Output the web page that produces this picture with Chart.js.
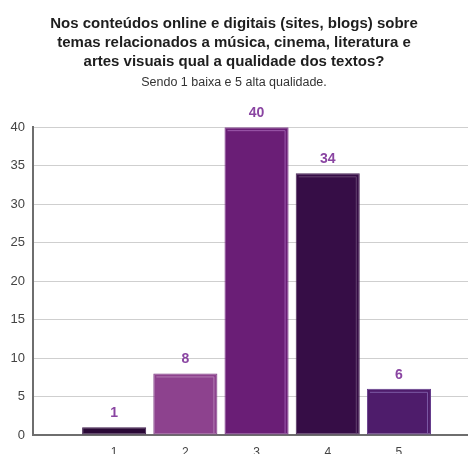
<!DOCTYPE html>
<html>
<head>
<meta charset="utf-8">
<script src="https://cdn.jsdelivr.net/npm/chart.js@4"></script>
<style>
    html, body { margin: 0; padding: 0; background: #fff; }
    #wrap { width: 468px; height: 454px; position: relative; }
</style>
</head>
<body>
<div id="wrap"><canvas id="chart"></canvas></div>
<script>
const titleLines = [
    'Nos conteúdos online e digitais (sites, blogs) sobre',
    'temas relacionados a música, cinema, literatura e',
    'artes visuais qual a qualidade dos textos?'
];
const subtitleText = 'Sendo 1 baixa e 5 alta qualidade.';

const categories = [1, 2, 3, 4, 5];
const values = [1, 8, 40, 34, 6];
const yTicks = [0, 5, 10, 15, 20, 25, 30, 35, 40];

const fillColors = ['#2a0836', '#8d428e', '#6a1e76', '#360d46', '#4e1c6b'];
const edgeColors = ['#3e1c4c', '#7c3a82', '#7a3088', '#4a2858', '#62388a'];
const shineColors = ['#5a3a68', '#b27ab2', '#9c5aac', '#62426e', '#7c5aa4'];

const FONT = '"Liberation Sans", Arial, sans-serif';

// thin lighter line inside the top and right edge of every bar
const barShine = {
    id: 'barShine',
    afterDatasetsDraw(chart) {
        const ctx = chart.ctx;
        const meta = chart.getDatasetMeta(0);
        ctx.save();
        ctx.lineWidth = 1;
        meta.data.forEach((bar, i) => {
            const half = bar.width / 2;
            const left = bar.x - half + 3;
            const right = bar.x + half - 3.5;
            const top = bar.y + 3.5;
            const bottom = bar.base - 1;
            if (bottom - top < 3) return;
            ctx.strokeStyle = shineColors[i];
            ctx.beginPath();
            ctx.moveTo(left, top);
            ctx.lineTo(right, top);
            ctx.lineTo(right, bottom);
            ctx.stroke();
        });
        ctx.restore();
    }
};

// numbers above each bar, taken from the bar elements themselves
const valueLabels = {
    id: 'valueLabels',
    afterDatasetsDraw(chart) {
        const ctx = chart.ctx;
        const meta = chart.getDatasetMeta(0);
        ctx.save();
        ctx.font = `bold 14px ${FONT}`;
        ctx.fillStyle = '#8a45a2';
        ctx.textAlign = 'center';
        ctx.textBaseline = 'middle';
        meta.data.forEach((bar, i) => {
            ctx.fillText(String(values[i]), bar.x, bar.y - 14);
        });
        ctx.restore();
    }
};

const ctx = document.getElementById('chart').getContext('2d');
const chart = new Chart(ctx, {
    type: 'bar',
    data: {
        datasets: [{
            data: categories.map((c, i) => ({ x: c, y: values[i] })),
            backgroundColor: fillColors,
            borderColor: edgeColors,
            borderWidth: 1,
            borderSkipped: false,
            categoryPercentage: 1,
            barPercentage: 0.9,
        }]
    },
    options: {
        responsive: true,
        maintainAspectRatio: false,
        animation: false,
        layout: { padding: { left: 0, right: 0, top: 0, bottom: 0 } },
        plugins: {
            legend: { display: false },
            tooltip: { enabled: false },
            title: {
                display: true,
                text: titleLines,
                color: '#1e1e1e',
                font: { family: FONT, size: 15, weight: 'bold', lineHeight: 1.27 },
                padding: { top: 14, bottom: 0 },
            },
            subtitle: {
                display: true,
                text: subtitleText,
                color: '#333',
                font: { family: FONT, size: 12.5, lineHeight: 1.2 },
                padding: { top: 4, bottom: 37 },
            },
        },
        scales: {
            x: {
                type: 'linear',
                offset: false,
                min: -0.14,
                max: 5.97,
                afterBuildTicks: (axis) => {
                    axis.ticks = categories.map((v) => ({ value: v }));
                },
                afterFit: (scale) => { scale.height = 19; },
                grid: { display: false, drawTicks: false },
                border: { display: true, color: '#6e6e6e', width: 2 },
                ticks: {
                    color: '#444',
                    font: { family: FONT, size: 12 },
                    padding: 10,
                    autoSkip: false,
                    maxRotation: 0,
                },
            },
            y: {
                min: 0,
                max: 40,
                afterBuildTicks: (axis) => {
                    axis.ticks = yTicks.map((v) => ({ value: v }));
                },
                afterFit: (scale) => { scale.width = 33; },
                grid: { color: '#cfcfcf', lineWidth: 1, drawTicks: false },
                border: { display: true, color: '#6e6e6e', width: 2 },
                ticks: {
                    color: '#444',
                    font: { family: FONT, size: 13 },
                    padding: 8,
                },
            },
        },
    },
    plugins: [barShine, valueLabels],
});
</script>
</body>
</html>
